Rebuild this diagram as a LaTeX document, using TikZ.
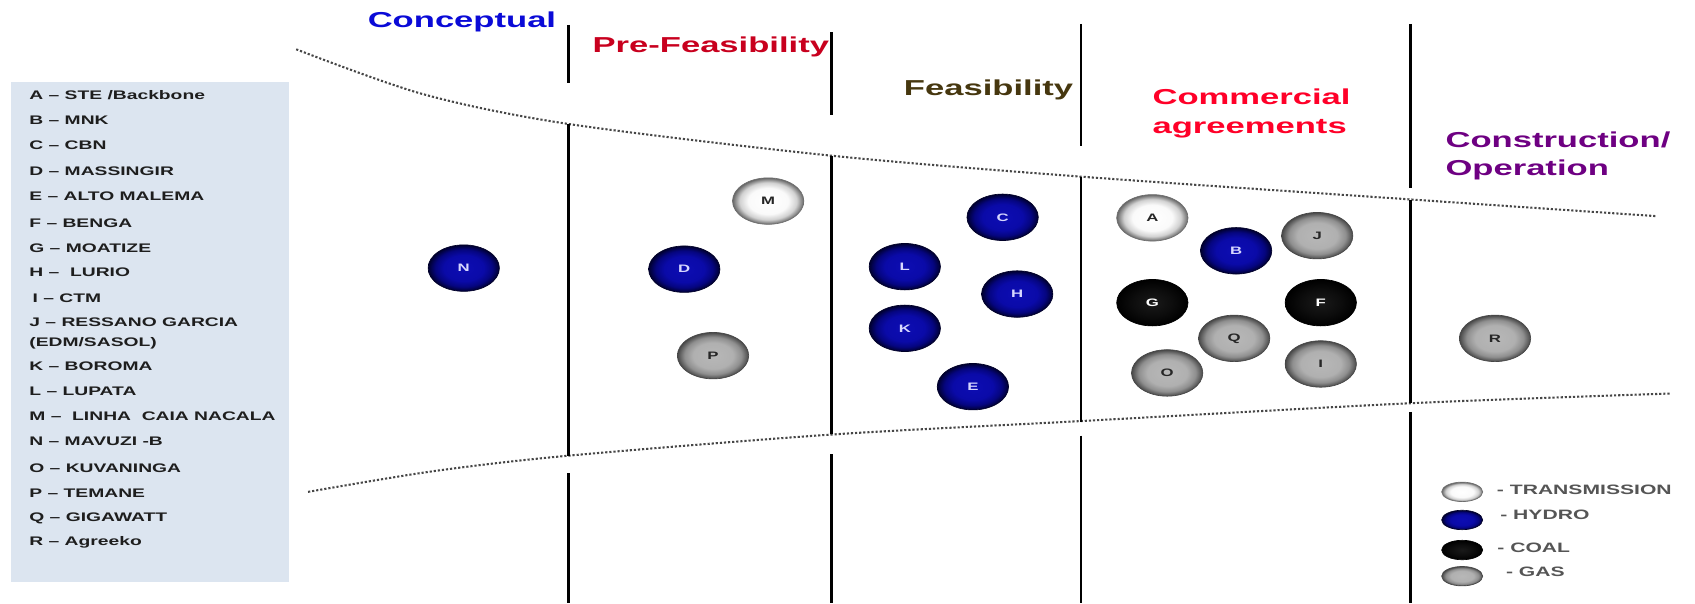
\documentclass[tikz,border=0pt]{standalone}
\usepackage{fontspec}
\setmainfont{Liberation Sans}
\usepackage{graphicx}
\usetikzlibrary{shapes.geometric}
\definecolor{legbg}{RGB}{220,229,240}
\definecolor{listtxt}{RGB}{30,30,30}
\definecolor{concblue}{RGB}{10,10,215}
\definecolor{prered}{RGB}{200,0,30}
\definecolor{feasbrown}{RGB}{70,55,15}
\definecolor{commred}{RGB}{255,0,40}
\definecolor{conspurple}{RGB}{110,0,130}
\definecolor{hydrorim}{RGB}{0,0,40}
\definecolor{hydrotxt}{RGB}{215,215,255}
\definecolor{gasrim}{RGB}{70,70,70}
\definecolor{whiterim}{RGB}{110,110,110}
\definecolor{dotgray}{RGB}{70,70,70}
\definecolor{keytxt}{RGB}{85,85,85}
\newcommand{\Wd}[1]{\scalebox{1.55}[1]{#1}}
\newcommand{\Wh}[1]{\scalebox{1.6}[1]{#1}}
\pgfdeclareradialshading{hydroshade}{\pgfpointorigin}{rgb(0bp)=(0.05,0.05,0.70);rgb(14bp)=(0.04,0.04,0.66);rgb(20bp)=(0.02,0.02,0.50);rgb(25bp)=(0,0,0.18);rgb(50bp)=(0,0,0.18)}
\pgfdeclareradialshading{gasshade}{\pgfpointorigin}{rgb(0bp)=(0.72,0.72,0.72);rgb(14bp)=(0.69,0.69,0.69);rgb(20bp)=(0.56,0.56,0.56);rgb(25bp)=(0.28,0.28,0.28);rgb(50bp)=(0.28,0.28,0.28)}
\pgfdeclareradialshading{whiteshade}{\pgfpointorigin}{rgb(0bp)=(1,1,1);rgb(14bp)=(0.98,0.98,0.98);rgb(20bp)=(0.82,0.82,0.82);rgb(25bp)=(0.4,0.4,0.4);rgb(50bp)=(0.4,0.4,0.4)}
\pgfdeclareradialshading{coalshade}{\pgfpointorigin}{rgb(0bp)=(0.1,0.1,0.1);rgb(14bp)=(0.05,0.05,0.05);rgb(25bp)=(0,0,0);rgb(50bp)=(0,0,0)}
\begin{document}
\begin{tikzpicture}[x=1pt,y=-1pt,
  ball/.style={ellipse, minimum width=66pt, minimum height=43pt, inner sep=0pt, line width=0.6pt,
    font=\fontsize{10}{10}\selectfont\bfseries},
  hydro/.style={ball, shade, shading=hydroshade, draw=hydrorim, text=hydrotxt},
  gas/.style={ball, shade, shading=gasshade, draw=gasrim, text=black!85},
  trans/.style={ball, shade, shading=whiteshade, draw=whiterim, text=black!85},
  coal/.style={ball, shade, shading=coalshade, draw=black, text=white},
  keyball/.style={minimum width=38pt, minimum height=18pt},
  listtext/.style={anchor=base west, inner sep=0pt, text=listtxt, font=\fontsize{11.5}{11.5}\selectfont\bfseries},
  keytext/.style={anchor=base west, inner sep=0pt, text=keytxt, font=\fontsize{12.6}{12.6}\selectfont\bfseries},
  header/.style={inner sep=0pt, font=\fontsize{20}{26.5}\selectfont\bfseries},
  vline/.style={line width=2.6pt, black},
  dotcurve/.style={dotgray, line width=1.9pt, dash pattern=on 2pt off 1.8pt}
]
\useasboundingbox (0,0) rectangle (1568,558);
% legend box
\fill[legbg] (10,75.5) rectangle (267,538);
\node[listtext] (kA) at (27,92.5) {\Wd{A – STE /Backbone}};
\node[listtext] (kB) at (27,115.6) {\Wd{B – MNK}};
\node[listtext] (kC) at (27,138.6) {\Wd{C – CBN}};
\node[listtext] (kD) at (27,162.2) {\Wd{D – MASSINGIR}};
\node[listtext] (kE) at (27,185.1) {\Wd{E – ALTO MALEMA}};
\node[listtext] (kF) at (27,210) {\Wd{F – BENGA}};
\node[listtext] (kG) at (27,233.2) {\Wd{G – MOATIZE}};
\node[listtext] (kH) at (27,256.2) {\Wd{H –\ \ LURIO}};
\node[listtext] (kI) at (30,279.4) {\Wd{I – CTM}};
\node[listtext] (kJ) at (27,302.2) {\Wd{J – RESSANO GARCIA}};
\node[listtext] (kJb) at (27,320.3) {\Wd{(EDM/SASOL)}};
\node[listtext] (kK) at (27,343) {\Wd{K – BOROMA}};
\node[listtext] (kL) at (27,366.2) {\Wd{L – LUPATA}};
\node[listtext] (kM) at (27,389.2) {\Wd{M –\ \ LINHA\ \ CAIA NACALA}};
\node[listtext] (kN) at (27,412.5) {\Wd{N – MAVUZI -B}};
\node[listtext] (kO) at (27,437.2) {\Wd{O – KUVANINGA}};
\node[listtext] (kP) at (27,460.2) {\Wd{P –\ TEMANE}};
\node[listtext] (kQ) at (27,482.5) {\Wd{Q – GIGAWATT}};
\node[listtext] (kR) at (27,505) {\Wd{R – Agreeko}};
% headers
\node[header, anchor=base west, text=concblue] (hConc) at (340,25.3) {\Wh{Conceptual}};
\node[header, anchor=base west, text=prered] (hPre) at (548,48.7) {\Wh{Pre-Feasibility}};
\node[header, anchor=base west, text=feasbrown] (hFeas) at (836,87.9) {\Wh{Feasibility}};
\node[header, anchor=north west, align=left, text=commred] (hComm) at (1066,82) {\Wh{Commercial}\\\Wh{agreements}};
\node[header, anchor=north west, align=left, text=conspurple] (hCons) at (1337,121.5) {\Wh{Construction/}\\\Wh{Operation}};
% dotted boundary curves
\draw[dotcurve] plot[smooth] coordinates {(274,45.6) (391,87) (526,114.7) (769,144) (1000,163.4) (1305,184.5) (1533,200)};
\draw[dotcurve] plot[smooth] coordinates {(285,455) (400,436) (526,421.5) (769,402) (1000,389.5) (1305,373) (1546,364)};
% stage dividers
\draw[vline] (526,23) -- (526,76.5) (526,114.5) -- (526,421.5) (526,438) -- (526,558);
\draw[vline] (769,30) -- (769,106) (769,144) -- (769,401.5) (769,420) -- (769,558);
\draw[vline] (1000,22) -- (1000,135) (1000,163.4) -- (1000,390) (1000,403) -- (1000,558);
\draw[vline] (1305,22) -- (1305,174) (1305,185) -- (1305,373) (1305,381) -- (1305,558);
% projects
\node[hydro] (N) at (429,248) {\Wd{N}};
\node[trans] (M) at (710.6,186) {\Wd{M}};
\node[hydro] (D) at (633,249) {\Wd{D}};
\node[gas] (P) at (659.6,329) {\Wd{P}};
\node[hydro] (C) at (927.5,201) {\Wd{C}};
\node[hydro] (L) at (837,246.7) {\Wd{L}};
\node[hydro] (H) at (941,272) {\Wd{H}};
\node[hydro] (K) at (837,303.7) {\Wd{K}};
\node[hydro] (E) at (900,357.7) {\Wd{E}};
\node[trans] (A) at (1066,201.5) {\Wd{A}};
\node[hydro] (B) at (1143.5,232) {\Wd{B}};
\node[gas] (J) at (1218.5,218) {\Wd{J}};
\node[coal] (G) at (1066,280) {\Wd{G}};
\node[coal] (F) at (1221.8,280) {\Wd{F}};
\node[gas] (Q) at (1141.7,313) {\Wd{Q}};
\node[gas] (O) at (1079.7,345) {\Wd{O}};
\node[gas] (I) at (1221.8,336.7) {\Wd{I}};
\node[gas] (R) at (1383,313) {\Wd{R}};
% technology key
\node[trans, keyball] (tT) at (1352.6,455) {};
\node[hydro, keyball] (tH) at (1352.6,481) {};
\node[coal, keyball] (tC) at (1352.6,508.8) {};
\node[gas, keyball] (tG) at (1352.6,533) {};
\node[keytext] (xT) at (1384.6,457.1) {\Wd{- TRANSMISSION}};
\node[keytext] (xH) at (1387.7,480.9) {\Wd{- HYDRO}};
\node[keytext] (xC) at (1385,511.5) {\Wd{- COAL}};
\node[keytext] (xG) at (1393,533.5) {\Wd{- GAS}};
\end{tikzpicture}
\end{document}
